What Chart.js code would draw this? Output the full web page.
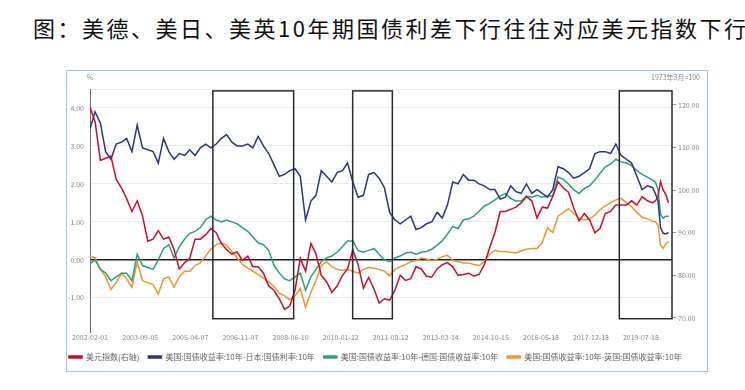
<!DOCTYPE html>
<html><head><meta charset="utf-8">
<script src="https://cdn.jsdelivr.net/npm/chart.js@4/dist/chart.umd.min.js"></script>
<style>
html,body{margin:0;padding:0;background:#fff;}
#wrap{position:relative;width:745px;height:390px;overflow:hidden;background:#fff;}
#title{position:absolute;left:33px;top:16px;font-family:"Noto Sans CJK SC",sans-serif;font-size:22px;line-height:22px;letter-spacing:2.5px;color:#111;white-space:nowrap;}
#frame{position:absolute;left:66px;top:70px;width:642px;height:302px;border:1px solid #a9c4df;box-sizing:border-box;}
#c{position:absolute;left:0;top:0;width:745px;height:390px;}
</style></head><body>
<div id="wrap">
<div id="title">图：美德、美日、美英10年期国债利差下行往往对应美元指数下行</div>
<div id="frame"></div>
<canvas id="c" width="745" height="390"></canvas>
</div>
<script>
const dates = [
'2002-02','2002-04','2002-06','2002-08','2002-10','2002-12',
'2003-02','2003-04','2003-06','2003-08','2003-10','2003-12',
'2004-02','2004-04','2004-06','2004-08','2004-10','2004-12',
'2005-02','2005-04','2005-06','2005-08','2005-10','2005-12',
'2006-02','2006-04','2006-06','2006-08','2006-10','2006-12',
'2007-02','2007-04','2007-06','2007-08','2007-10','2007-12',
'2008-02','2008-04','2008-06','2008-08','2008-10','2008-12',
'2009-02','2009-04','2009-06','2009-08','2009-10','2009-12',
'2010-02','2010-04','2010-06','2010-08','2010-10','2010-12',
'2011-02','2011-04','2011-06','2011-08','2011-10','2011-12',
'2012-02','2012-04','2012-06','2012-08','2012-10','2012-12',
'2013-02','2013-04','2013-06','2013-08','2013-10','2013-12',
'2014-02','2014-04','2014-06','2014-08','2014-10','2014-12',
'2015-02','2015-04','2015-06','2015-08','2015-10','2015-12',
'2016-02','2016-04','2016-06','2016-08','2016-10','2016-12',
'2017-02','2017-04','2017-06','2017-08','2017-10','2017-12',
'2018-02','2018-04','2018-06','2018-08','2018-10','2018-12',
'2019-02','2019-04','2019-06','2019-08','2019-10','2019-12',
'2020-01','2020-02','2020-03','2020-04','2020-05','2020-06'];

// 美元指数 (right axis)
const usdIndex = [
119.5,116.0,107.0,107.5,108.0,102.5,
100.5,98.0,95.0,97.5,94.0,88.0,
88.5,90.5,88.5,89.0,86.0,81.5,
83.0,84.0,88.5,88.5,89.5,91.0,
90.0,87.5,86.0,85.0,85.5,83.5,
84.5,82.0,82.0,80.5,77.5,76.5,
74.5,72.0,72.8,76.5,84.0,81.0,
87.5,85.0,80.0,78.5,76.0,77.5,
80.0,81.5,86.0,82.5,77.0,79.5,
76.8,73.5,74.5,74.2,76.5,80.0,
78.8,79.2,82.0,81.5,79.8,79.6,
81.5,82.5,83.0,82.0,80.0,80.2,
80.5,79.8,80.2,82.5,86.5,90.0,
95.0,95.0,95.5,96.0,97.0,98.5,
97.5,93.5,96.0,95.8,98.5,102.0,
100.5,99.5,95.8,92.8,94.5,93.0,
90.0,91.0,94.5,95.0,96.5,96.5,
96.5,97.5,96.5,98.5,97.5,97.0,
97.5,98.5,102.0,100.0,99.0,97.0];

// US 10Y - Japan 10Y
const spreadJP = [
3.45,3.90,3.60,2.85,2.65,3.05,
3.10,3.20,2.85,3.55,2.95,2.90,
2.85,2.55,3.20,2.85,2.65,2.80,
2.75,2.90,2.75,2.95,3.05,2.95,
3.05,3.20,3.30,3.10,3.00,3.00,
3.05,2.95,3.25,3.00,2.80,2.50,
2.20,2.25,2.35,2.40,2.20,1.05,
1.55,1.70,2.35,2.20,2.05,2.30,
2.35,2.55,2.05,1.65,1.70,2.25,
2.30,2.15,1.90,1.25,1.05,0.95,
1.05,1.15,0.80,0.85,0.95,1.00,
1.25,1.10,1.45,2.05,2.00,2.25,
2.10,2.10,2.00,1.95,1.85,1.85,
1.60,1.65,1.95,1.80,1.75,2.00,
1.75,1.85,1.75,1.65,1.85,2.45,
2.40,2.30,2.15,2.20,2.30,2.40,
2.80,2.85,2.85,2.80,3.05,2.75,
2.65,2.55,2.20,1.85,1.95,1.90,
1.75,1.55,0.85,0.70,0.68,0.72];

// US 10Y - Germany 10Y
const spreadDE = [
-0.10,0.00,-0.25,-0.35,-0.55,-0.45,
-0.35,-0.35,-0.55,0.15,-0.15,-0.20,
-0.25,0.00,0.30,0.40,0.05,0.35,
0.55,0.70,0.75,0.85,1.05,1.15,
1.05,1.00,1.05,1.00,0.95,0.85,
0.75,0.60,0.45,0.40,0.25,-0.15,
-0.35,-0.50,-0.55,-0.45,-0.35,-0.80,
-0.45,-0.25,-0.05,0.05,0.10,0.20,
0.35,0.50,0.50,0.25,0.20,0.25,
0.30,0.15,0.00,-0.05,0.05,0.10,
0.18,0.20,0.15,0.20,0.22,0.28,
0.38,0.50,0.68,0.88,0.82,1.05,
1.08,1.15,1.28,1.42,1.48,1.58,
1.68,1.75,1.62,1.55,1.55,1.68,
1.65,1.70,1.65,1.68,1.68,2.18,
2.12,2.00,1.85,1.75,1.88,1.95,
2.10,2.28,2.45,2.52,2.65,2.58,
2.55,2.48,2.35,2.25,2.18,2.10,
2.05,1.85,1.20,1.10,1.15,1.15];

// US 10Y - UK 10Y
const spreadUK = [
0.10,0.05,-0.25,-0.45,-0.78,-0.60,
-0.35,-0.50,-0.72,-0.05,-0.55,-0.60,
-0.65,-0.90,-0.50,-0.45,-0.72,-0.45,
-0.30,-0.30,-0.15,-0.08,0.10,0.28,
0.40,0.45,0.38,0.22,0.05,-0.12,
-0.22,-0.30,-0.38,-0.48,-0.58,-0.70,
-0.88,-0.95,-1.05,-0.95,-0.75,-1.25,
-0.85,-0.55,-0.15,-0.05,-0.18,-0.25,
-0.28,-0.25,-0.30,-0.35,-0.25,-0.20,
-0.22,-0.25,-0.30,-0.42,-0.25,-0.18,
-0.12,-0.05,-0.02,0.05,0.02,-0.02,
0.02,0.08,0.12,-0.02,-0.05,-0.08,
-0.08,-0.12,-0.15,-0.05,0.15,0.25,
0.22,0.22,0.20,0.18,0.24,0.28,
0.30,0.30,0.45,0.85,0.72,1.15,
1.25,1.35,1.22,1.10,1.05,1.08,
1.18,1.32,1.42,1.50,1.58,1.62,
1.50,1.40,1.25,1.12,1.08,1.02,
1.00,0.92,0.40,0.30,0.42,0.48];

const seriesNames = ['美元指数(右轴)','美国:国债收益率:10年-日本:国债利率:10年','美国:国债收益率:10年-德国:国债收益率:10年','美国:国债收益率:10年-英国:国债收益率:10年'];
const tickDates = ['2002-02-01','2003-09-05','2005-04-07','2006-11-07','2008-06-10','2010-01-12','2011-08-12','2013-03-14','2014-10-15','2016-05-18','2017-12-18','2019-07-18'];
const leftTicks = [-1,0,1,2,3,4];
const rightTicks = [70,80,90,100,110,120];
const boxStart = ['2005-12-24','2010-05-30','2018-11-10'];
const boxEnd = ['2008-07-16','2011-09-01','2020-07-12'];
const boxTop = 4.45, boxBottom = -1.55;
const leftUnit = '%';
const rightUnit = '1973年3月=100';
const axisStart = '2002-02-01', axisEnd = '2020-07-12';

const FONT = '"Noto Sans CJK SC","Noto Sans",sans-serif';
function toYear(s){
  const p = s.split('-').map(Number);
  const y = p[0], m = p[1], d = p[2] || 1;
  const a = Date.UTC(y,0,1), b = Date.UTC(y+1,0,1);
  return y + (Date.UTC(y,m-1,d) - a) / (b - a);
}
const pts = arr => arr.map((v,i) => ({x: toYear(dates[i]), y: v}));
const colors = ['#c8102e','#2b3584','#2f9e80','#f0962e'];
const values = [usdIndex, spreadJP, spreadDE, spreadUK];

const boxPlugin = {
  id:'boxes',
  afterDatasetsDraw(chart){
    const {ctx, scales:{x, y}} = chart;
    ctx.save(); ctx.strokeStyle = '#2a2a2a'; ctx.lineWidth = 1.5;
    for (let i = 0; i < boxStart.length; i++){
      const x0 = x.getPixelForValue(toYear(boxStart[i])), x1 = x.getPixelForValue(toYear(boxEnd[i]));
      const y0 = y.getPixelForValue(boxTop), y1 = y.getPixelForValue(boxBottom);
      ctx.strokeRect(x0, y0, x1 - x0, y1 - y0);
    }
    ctx.restore();
  }
};
const unitPlugin = {
  id:'units',
  afterDraw(chart){
    const {ctx, chartArea:a} = chart;
    ctx.save(); ctx.font = '7px ' + FONT; ctx.fillStyle = '#8a8a8a'; ctx.textBaseline = 'middle';
    ctx.textAlign = 'center'; ctx.fillText(leftUnit, a.left, a.top - 12);
    ctx.textAlign = 'right'; ctx.fillText(rightUnit, a.right + 28, a.top - 12);
    ctx.restore();
  }
};

new Chart(document.getElementById('c'), {
  type:'line',
  data:{
    datasets: values.map((arr,i) => ({
      label: seriesNames[i],
      data: pts(arr),
      yAxisID: i === 0 ? 'yR' : 'y',
      borderColor: colors[i],
      backgroundColor: colors[i],
      borderWidth: 1.5,
      pointRadius: 0,
      tension: 0
    }))
  },
  options:{
    responsive:false,
    animation:false,
    devicePixelRatio:1,
    layout:{padding:{left:60, top:89, right:0, bottom:19}},
    plugins:{
      legend:{
        position:'bottom', align:'start',
        labels:{boxWidth:13, boxHeight:2, padding:9, color:'#666', font:{size:8, family:FONT}}
      },
      tooltip:{enabled:false}
    },
    scales:{
      x:{
        type:'linear',
        min: toYear(axisStart), max: toYear(axisEnd),
        afterBuildTicks: s => { s.ticks = tickDates.map(d => ({value: toYear(d)})); },
        afterFit: s => { s.height = 12; },
        ticks:{callback:(v,i) => tickDates[i], autoSkip:false, maxRotation:0, minRotation:0, padding:1, color:'#888', font:{size:7, family:FONT}},
        grid:{display:false, drawTicks:false},
        border:{display:false}
      },
      y:{
        position:'left',
        min:-1.9, max:4.5,
        afterBuildTicks: s => { s.ticks = leftTicks.concat([4.5]).map(v => ({value:v})); },
        afterFit: s => { s.width = 30; },
        ticks:{callback: v => leftTicks.includes(v) ? v.toFixed(2) : '', padding:6, color:'#888', font:{size:7, family:FONT}},
        grid:{
          drawTicks:false,
          color: c => (c.tick && c.tick.value === 0) ? '#1e1e1e' : '#e6e6e6',
          lineWidth: c => (c.tick && c.tick.value === 0) ? 1.6 : 0.8
        },
        border:{display:true, color:'#6a6a6a', width:1}
      },
      yR:{
        position:'right',
        min:66.7, max:123.75,
        afterBuildTicks: s => { s.ticks = rightTicks.map(v => ({value:v})); },
        afterFit: s => { s.width = 73; },
        ticks:{callback: v => v.toFixed(2), padding:2, color:'#888', font:{size:7, family:FONT}},
        grid:{drawOnChartArea:false, drawTicks:true, tickLength:4, color:'#999'},
        border:{display:false}
      }
    }
  },
  plugins:[boxPlugin, unitPlugin]
});
</script>
</body></html>
